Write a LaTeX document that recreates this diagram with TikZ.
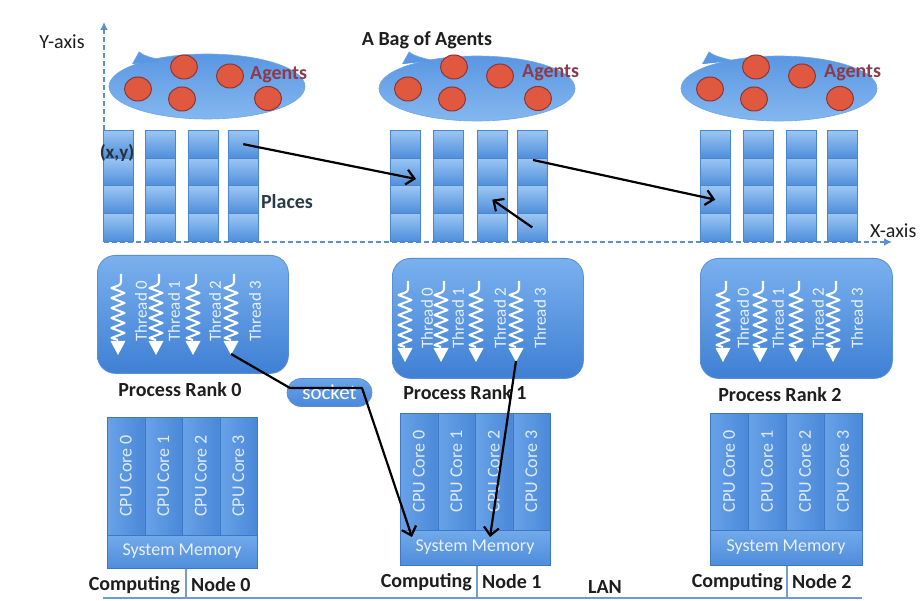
\documentclass[tikz,border=0pt]{standalone}
\usepackage{fontspec}
\setmainfont{Carlito}
\usetikzlibrary{arrows.meta,shapes.geometric,calc}
\definecolor{axisblue}{HTML}{5B8FD3}
\definecolor{agentred}{HTML}{E0583F}
\definecolor{agentrim}{HTML}{8B3535}
\definecolor{agenttxt}{HTML}{8B3B4B}
\definecolor{lbltxt}{HTML}{1E1E1E}
\definecolor{bluetop}{HTML}{7AB0EE}
\definecolor{bluebot}{HTML}{3F80D4}
\definecolor{blueedge}{HTML}{5A8FD6}
\definecolor{blobtop}{HTML}{5A97E2}
\definecolor{blobbot}{HTML}{84B7EF}
\definecolor{blobedge}{HTML}{6FA6E8}
\definecolor{celltop}{HTML}{9CC6F3}
\definecolor{cellbot}{HTML}{4E8EDB}
\definecolor{celledge}{HTML}{4A86D0}
\definecolor{coreleft}{HTML}{68A2E8}
\definecolor{coreright}{HTML}{4A88D8}
\definecolor{coreedge}{HTML}{3D78C6}
\definecolor{memtop}{HTML}{72AAEA}
\definecolor{membot}{HTML}{4F8CDB}
\definecolor{socktop}{HTML}{6AA3EA}
\definecolor{sockbot}{HTML}{4A88D8}
\definecolor{lanblue}{HTML}{6A9AD8}
\definecolor{divgray}{HTML}{7A9CC8}
\definecolor{xytxt}{HTML}{2A2F3A}
\definecolor{placetxt}{HTML}{2A3A4A}
\tikzset{
  lbl/.style={font=\fontsize{20}{24}\selectfont\bfseries, text=lbltxt, inner sep=0pt},
  agentlbl/.style={font=\fontsize{20}{24}\selectfont\bfseries, text=agenttxt, inner sep=0pt, anchor=west},
  axisline/.style={draw=axisblue, line width=1.8pt, dash pattern=on 5pt off 3pt, -{Latex[length=8pt,width=8pt]}},
  blob/.style={ellipse, inner sep=0pt, top color=blobtop, bottom color=blobbot, draw=blobedge, line width=0.6pt},
  agent/.style={ellipse, inner sep=0pt, minimum width=27pt, minimum height=24pt, fill=agentred, draw=agentrim, line width=1pt},
  cell/.style={rectangle, inner sep=0pt, minimum width=30pt, minimum height=27.75pt, anchor=north west,
     top color=celltop, bottom color=cellbot, draw=celledge, line width=0.6pt},
  procbox/.style={rectangle, rounded corners=18pt, inner sep=0pt, top color=bluetop, bottom color=bluebot, draw=blueedge, line width=0.8pt},
  threadline/.style={draw=white, line width=2.1pt, line join=round},
  threadlbl/.style={font=\fontsize{17}{20}\selectfont, text=white, text opacity=0.85, inner sep=0pt, rotate=90},
  core/.style={rectangle, inner sep=0pt, anchor=north west, left color=coreleft, right color=coreright, draw=coreedge, line width=0.6pt},
  corelbl/.style={font=\fontsize{18}{21}\selectfont, text=white, text opacity=0.8, inner sep=0pt, rotate=90},
  mem/.style={rectangle, inner sep=0pt, anchor=north west, top color=memtop, bottom color=membot, draw=coreedge, line width=0.6pt},
  memlbl/.style={font=\fontsize{18}{21}\selectfont, text=white, text opacity=0.85, inner sep=0pt},
  socketbox/.style={rectangle, rounded corners=14pt, minimum width=85pt, minimum height=28pt, inner sep=0pt,
     top color=socktop, bottom color=sockbot, draw=blueedge, line width=0.6pt,
     font=\fontsize{21}{24}\selectfont, text=white},
  conn/.style={draw=black, line width=2.2pt, line join=round, -{Straight Barb[length=8pt,width=15pt]}},
  lanline/.style={draw=lanblue, line width=2pt},
  divline/.style={draw=divgray, line width=1.4pt}
}
\begin{document}
\begin{tikzpicture}[x=1pt,y=-1pt]
\useasboundingbox (0,0) rectangle (922,601);
\fill[white] (0,0) rectangle (922,601);

% ---------------- axes ----------------
\coordinate (origin) at (104,242);
\coordinate (ytop) at (104,22);
\coordinate (xend) at (892,242);
\draw[axisline] (origin) -- (ytop);
\draw[axisline] (origin) -- (xend);
\node[font=\fontsize{20}{24}\selectfont, text=lbltxt, inner sep=0pt] (ylabel) at (62,42) {Y-axis};
\node[font=\fontsize{20}{24}\selectfont, text=lbltxt, inner sep=0pt, anchor=west] (xlabel) at (870,231) {X-axis};

% ---------------- bags of agents ----------------
\node[lbl] (bagtitle) at (427,40) {A Bag of Agents};
\foreach \g/\l/\cy/\tx in {1/110/86.5/138, 2/380/88.5/408, 3/682/88.5/708} {
  \fill[blobedge] ({\tx+1},51.5) -- ({\tx-6},64) -- ({\tx+24},60) .. controls ({\tx+12},57) and ({\tx+5},55) .. cycle;
  \node[blob, minimum width=196pt, minimum height=65pt] (bag\g) at ({\l+97},\cy) {};
  \fill[blobtop] ({\tx+1},52.5) -- ({\tx-5},64) -- ({\tx+24},61) .. controls ({\tx+12},58) and ({\tx+5},56) .. cycle;
  \node[agent] (ag\g-1) at ({\l+28},89) {};
  \node[agent] (ag\g-2) at ({\l+74},67) {};
  \node[agent] (ag\g-3) at ({\l+120},76) {};
  \node[agent] (ag\g-4) at ({\l+72},99) {};
  \node[agent] (ag\g-5) at ({\l+158},98.5) {};
}
\node[agentlbl] (agl1) at (250,75) {Agents};
\node[agentlbl] (agl2) at (522,73) {Agents};
\node[agentlbl] (agl3) at (824,73) {Agents};

% ---------------- places ----------------
\foreach \g/\xa/\xb/\xc/\xd in {1/103/145/188/228, 2/390/433/477/517, 3/700/743/786/827} {
  \foreach \c/\x in {1/\xa,2/\xb,3/\xc,4/\xd} {
    \foreach \r in {1,...,4} {
      \node[cell] (p\g-\c-\r) at (\x,{130+(\r-1)*27.75}) {};
    }
  }
}
\node[lbl, font=\fontsize{19}{22}\selectfont\bfseries, text=xytxt] (xy) at (117,153) {(x,y)};
\node[lbl, text=placetxt] (places) at (287,202) {Places};

\coordinate (a1e) at (416,179);
\coordinate (a2s) at (533,160);
\draw[conn] (p1-4-1.center) -- (a1e);
\draw[conn] (a2s) -- (p3-1-3.center);
\draw[conn] (p2-4-4.center) -- (p2-3-3.center);

% ---------------- processes ----------------
\node[procbox, minimum width=191pt, minimum height=118pt, anchor=north west] (pr0) at (97,255) {};
\node[procbox, minimum width=191pt, minimum height=120pt, anchor=north west] (pr1) at (392,258) {};
\node[procbox, minimum width=192pt, minimum height=120pt, anchor=north west] (pr2) at (700,258) {};

\foreach \b/\t/\lst in {0/274/{118/141,156/174,193/215,231/255}, 1/281/{405/427,441/458,476/500,516/540}, 2/281/{723/743,760/778,796/818,833/857}} {
  \foreach \x/\lx [count=\i from 0] in \lst {
    \draw[threadline] ({\x+3},\t) -- ({\x+3},{\t+8}) .. controls ({\x+3},{\t+12}) and ({\x-2},{\t+12}) .. ({\x-6.5},{\t+14})
      \foreach \j in {1,...,10} { -- ({\x+6.5-13*mod(\j+1,2)},{\t+14+5*\j}) } -- (\x,{\t+66});
    \fill[white] ({\x-7.5},{\t+67}) -- ({\x+7.5},{\t+67}) -- (\x,{\t+81}) -- cycle;
    \coordinate (th\b-\i) at (\x,{\t+80});
    \node[threadlbl] (tl\b-\i) at (\lx,{\t+37}) {Thread \i};
  }
}
\node[lbl] (prl0) at (180,390) {Process Rank 0};
\node[lbl] (prl1) at (465,393) {Process Rank 1};
\node[lbl] (prl2) at (780,395) {Process Rank 2};

% ---------------- computing nodes ----------------
\foreach \n/\x/\y/\w/\h/\m in {0/107/417/37.5/118/33, 1/400/413/37.5/117/35, 2/710/413/38/117/35} {
  \foreach \k in {0,...,3} {
    \node[core, minimum width=\w pt, minimum height=\h pt] (cc\n-\k) at ({\x+\k*\w},\y) {};
    \node[corelbl] (ccl\n-\k) at ({\x+(\k+0.5)*\w},{\y+\h/2}) {CPU Core \k};
  }
  \node[mem, minimum width={4*\w pt}, minimum height=\m pt] (mem\n) at (\x,{\y+\h}) {};
  \node[memlbl] (meml\n) at ({\x+2*\w},{\y+\h+\m/2}) {System Memory};
}

% ---------------- socket & connectors ----------------
\node[socketbox] (socket) at (329.5,392.5) {socket};
\coordinate (sk1) at (290,388);
\coordinate (sk2) at (362,388);
\coordinate (m1a) at (412,537);
\coordinate (m1b) at (490,537);
\draw[conn] (th0-3) -- (sk1) -- (sk2) -- (m1a);
\draw[conn] (th1-3) -- (m1b);

% ---------------- LAN ----------------
\coordinate (lanL) at (103,598);
\coordinate (lanR) at (862,598);
\draw[lanline] (lanL) -- (lanR);
\draw[divline] (mem0.south west) ++(79,0) coordinate (d0) -- (d0 |- lanL);
\draw[divline] (mem1.south west) ++(77,0) coordinate (d1) -- (d1 |- lanL);
\draw[divline] (mem2.south west) ++(77,0) coordinate (d2) -- (d2 |- lanL);
\node[lbl, anchor=east] (comp0) at (180,585) {Computing};
\node[lbl, anchor=west] (node0) at (191,585) {Node 0};
\node[lbl, anchor=east] (comp1) at (472,582) {Computing};
\node[lbl, anchor=west] (node1) at (482,582) {Node 1};
\node[lbl, anchor=east] (comp2) at (783,582) {Computing};
\node[lbl, anchor=west] (node2) at (792,582) {Node 2};
\node[lbl] (lan) at (605,587) {LAN};
\end{tikzpicture}
\end{document}
